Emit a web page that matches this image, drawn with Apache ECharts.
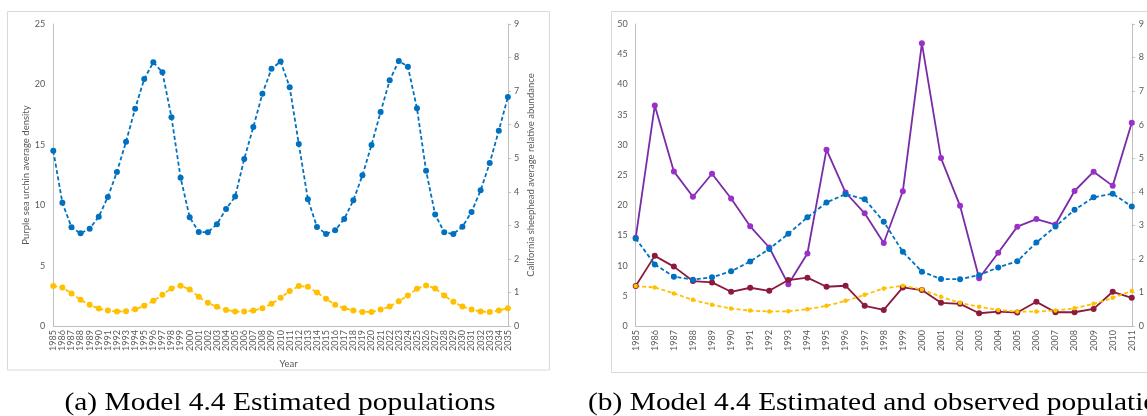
<!DOCTYPE html>
<html>
<head>
<meta charset="utf-8">
<script src="https://cdn.jsdelivr.net/npm/echarts@6/dist/echarts.min.js"></script>
<style>html,body{margin:0;padding:0;background:#fff}#c{width:1147px;height:416px}</style>
</head>
<body>
<div id="c"></div>
<script>
const yearsA = [];
for (let y = 1985; y <= 2035; y++) yearsA.push(String(y));
const yearsB = yearsA.slice(0, 27);

const urchinEst = [14.5,10.2,8.17,7.67,8.06,9.05,10.68,12.75,15.26,17.99,20.45,21.83,21.0,17.28,12.28,9.0,7.78,7.76,8.42,9.69,10.71,13.82,16.47,19.23,21.3,21.9,19.77,15.07,10.5,8.2,7.62,7.92,8.86,10.4,12.47,14.98,17.72,20.34,21.94,21.47,18.02,12.86,9.22,7.76,7.62,8.22,9.44,11.23,13.49,16.17,18.96];
const sheepEst = [1.19,1.15,0.97,0.78,0.63,0.52,0.46,0.43,0.44,0.5,0.6,0.75,0.93,1.12,1.2,1.09,0.87,0.69,0.57,0.48,0.43,0.43,0.46,0.53,0.66,0.84,1.04,1.19,1.17,1.0,0.81,0.63,0.53,0.46,0.42,0.42,0.49,0.58,0.74,0.91,1.11,1.21,1.12,0.91,0.72,0.58,0.49,0.43,0.42,0.46,0.53];
const urchinObs = [14.6,36.5,25.6,21.4,25.2,21.1,16.5,13.0,6.9,12.0,29.2,22.1,18.65,13.74,22.3,46.8,27.8,19.9,7.9,12.14,16.45,17.7,16.8,22.35,25.55,23.2,33.66];
const sheepObs = [1.19,2.09,1.77,1.34,1.30,1.02,1.14,1.05,1.37,1.44,1.17,1.2,0.6,0.48,1.15,1.07,0.69,0.66,0.38,0.43,0.4,0.72,0.41,0.41,0.51,1.02,0.84];

const leftTicksA = {min:0, max:25, interval:5};
const rightTicks = {min:0, max:9, interval:1};
const leftTicksB = {min:0, max:50, interval:5};

const captionA = '(a) Model 4.4 Estimated populations';
const captionB = '(b) Model 4.4 Estimated and observed populations';

const BLUE = '#0070C0', YEL = '#FFC000', PURL = '#7A2BA8', PURM = '#9A30C8', MAR = '#8C1A3C';
const txt = '#595959', axc = '#BFBFBF';
const FONT = 'Lato';

function xAx(gi, data, name) {
  return {
    type:'category', gridIndex:gi, data:data, boundaryGap:false,
    axisLine:{lineStyle:{color:axc, width:1}}, axisTick:{show:false},
    axisLabel:{rotate:90, interval:0, color:txt, fontSize:9, fontFamily:FONT, margin:4},
    name:name, nameLocation:'middle', nameGap:29,
    nameTextStyle:{color:txt, fontSize:9.5, fontFamily:FONT, padding:[0,0,0,16]}
  };
}
function yAx(gi, t, pos, name, gap, ticks, margin) {
  return {
    type:'value', gridIndex:gi, position:pos, min:t.min, max:t.max, interval:t.interval,
    splitLine:{show:false},
    axisLine:{show:true, lineStyle:{color:axc, width:1}},
    axisTick:{show:ticks, length:3, lineStyle:{color:axc}},
    axisLabel:{color:txt, fontSize:9, fontFamily:FONT, margin: margin},
    name:name, nameLocation:'middle', nameGap:gap,
    nameTextStyle:{color:txt, fontSize:9.5, fontFamily:FONT}
  };
}
function ser(name, xi, yi, data, color, mcolor, dashed, size) {
  return {
    name:name, type:'line', xAxisIndex:xi, yAxisIndex:yi, data:data,
    symbol:'circle', symbolSize:size, showSymbol:true,
    lineStyle:{color:color, width:1.8, type: dashed ? [4,2.5] : 'solid'},
    itemStyle:{color:mcolor}, emphasis:{disabled:true}, animation:false
  };
}

const chart = echarts.init(document.getElementById('c'), null, {renderer:'canvas'});
chart.setOption({
  backgroundColor:'#fff',
  animation:false,
  grid:[
    {left:53.3, top:24, width:454.6, height:302},
    {left:635.7, top:24, width:500.6, height:302}
  ],
  xAxis:[ xAx(0, yearsA, 'Year'), xAx(1, yearsB, '') ],
  yAxis:[
    yAx(0, leftTicksA, 'left', 'Purple sea urchin average density', 21, false, 8),
    yAx(0, rightTicks, 'right', 'California sheephead average relative abundance', 18, true, 6),
    yAx(1, leftTicksB, 'left', '', 20, false, 8),
    yAx(1, rightTicks, 'right', '', 20, true, 7)
  ],
  series:[
    ser('Urchin est', 0, 0, urchinEst, BLUE, BLUE, true, 6),
    ser('Sheephead est', 0, 1, sheepEst, YEL, YEL, true, 6),
    ser('Urchin obs', 1, 2, urchinObs, PURL, PURM, false, 6),
    ser('Sheephead obs', 1, 3, sheepObs, MAR, MAR, false, 6),
    ser('Urchin est B', 1, 2, urchinEst.slice(0,27), BLUE, BLUE, true, 6),
    ser('Sheephead est B', 1, 3, sheepEst.slice(0,27), YEL, YEL, true, 4.5)
  ],
  graphic:[
    {type:'rect', shape:{x:7.5, y:11.5, width:542, height:358.5}, style:{fill:'none', stroke:'#D9D9D9', lineWidth:1}, silent:true, z:-1},
    {type:'rect', shape:{x:611.5, y:11.5, width:600, height:361}, style:{fill:'none', stroke:'#D9D9D9', lineWidth:1}, silent:true, z:-1},
    {type:'text', x:280, y:403, scaleX:1.178, style:{text:captionA, font:'25px "Liberation Serif"', fill:'#000', textAlign:'center', textVerticalAlign:'middle'}},
    {type:'text', x:588, y:403, scaleX:1.178, style:{text:captionB, font:'25px "Liberation Serif"', fill:'#000', textAlign:'left', textVerticalAlign:'middle'}}
  ]
});
</script>
</body>
</html>
